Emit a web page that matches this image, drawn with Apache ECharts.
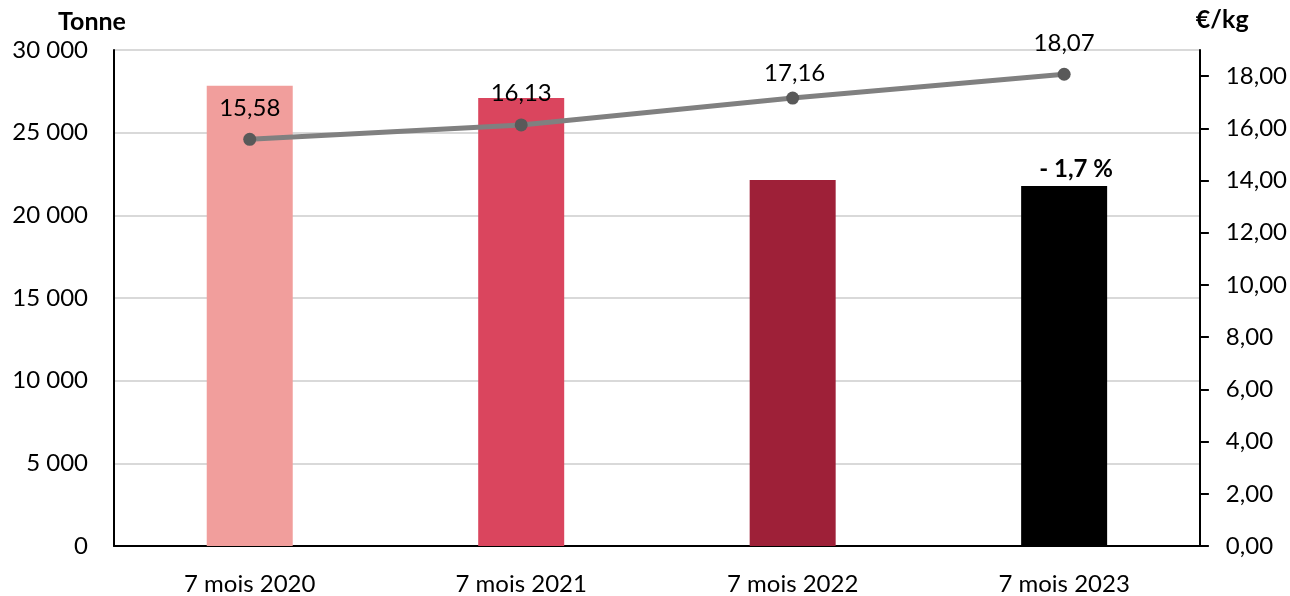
<!DOCTYPE html>
<html>
<head>
<meta charset="utf-8">
<script src="https://cdn.jsdelivr.net/npm/echarts@6/dist/echarts.min.js"></script>
<style>
html,body{margin:0;padding:0;background:#fff;}
#chart{width:1290px;height:596px;}
</style>
</head>
<body>
<div id="chart"></div>
<script>
const categories = ['7 mois 2020', '7 mois 2021', '7 mois 2022', '7 mois 2023'];
const volumes = [27840, 27090, 22140, 21770];
const prices = [15.58, 16.13, 17.16, 18.07];
const barColors = ['#F19E9C', '#DA455E', '#9E2038', '#000000'];
const barNote = ['', '', '', '- 1,7 %'];
const leftTicks = [0, 5000, 10000, 15000, 20000, 25000, 30000];
const rightTicks = [0, 2, 4, 6, 8, 10, 12, 14, 16, 18];

const FONT = 'Lato';
const FS = 24;
const chart = echarts.init(document.getElementById('chart'));
const fmtThousands = v => String(v).replace(/\B(?=(\d{3})+(?!\d))/g, ' ');
chart.setOption({
  animation: false,
  textStyle: { fontFamily: FONT },
  grid: { left: 114, right: 90, top: 50, bottom: 49, containLabel: false },
  xAxis: {
    type: 'category',
    data: categories,
    axisLine: { lineStyle: { color: '#000', width: 2 } },
    axisTick: { show: false },
    axisLabel: { color: '#000', fontSize: FS, margin: 26, fontFamily: FONT }
  },
  yAxis: [
    {
      type: 'value', min: 0, max: 30000, interval: 5000,
      name: 'Tonne', nameLocation: 'end', nameGap: 16,
      nameTextStyle: { color: '#000', fontSize: 25, fontWeight: 'bold', align: 'center', padding: [0, 0, 0, -44] },
      axisLine: { show: true, lineStyle: { color: '#000', width: 2 } },
      axisTick: { show: false },
      axisLabel: { color: '#000', fontSize: FS, margin: 26, formatter: fmtThousands, customValues: leftTicks },
      splitLine: { show: true, lineStyle: { color: '#D9D9D9', width: 2 } }
    },
    {
      type: 'value', min: 0, max: 19, interval: 1,
      name: '€/kg', nameLocation: 'end', nameGap: 18,
      nameTextStyle: { color: '#000', fontSize: 25, fontWeight: 'bold', align: 'left', padding: [0, 0, 0, -4] },
      axisLine: { show: true, lineStyle: { color: '#000', width: 2 } },
      axisTick: { show: true, length: 9, lineStyle: { color: '#000', width: 2 }, customValues: rightTicks },
      axisLabel: { color: '#000', fontSize: FS, margin: 26, customValues: rightTicks,
        formatter: v => v.toFixed(2).replace('.', ',') },
      splitLine: { show: false }
    }
  ],
  series: [
    {
      type: 'bar',
      yAxisIndex: 0,
      barWidth: 86,
      data: volumes.map((v, i) => ({
        value: v,
        itemStyle: { color: barColors[i] },
        label: {
          show: barNote[i] !== '',
          position: 'top', distance: 5, offset: [12, 0],
          formatter: barNote[i],
          color: '#000', fontSize: FS, fontWeight: 'bold', fontFamily: FONT
        }
      })),
      z: 2
    },
    {
      type: 'line',
      yAxisIndex: 1,
      data: prices.map((v, i) => (i === 2 ? { value: v, label: { offset: [2, 7] } } : v)),
      symbol: 'circle',
      symbolSize: 13,
      itemStyle: { color: '#595959' },
      lineStyle: { color: '#808080', width: 5 },
      label: {
        show: true, position: 'top', distance: 13,
        color: '#000', fontSize: FS, fontFamily: FONT,
        formatter: p => p.value.toFixed(2).replace('.', ',')
      },
      z: 5
    }
  ]
});
</script>
</body>
</html>
